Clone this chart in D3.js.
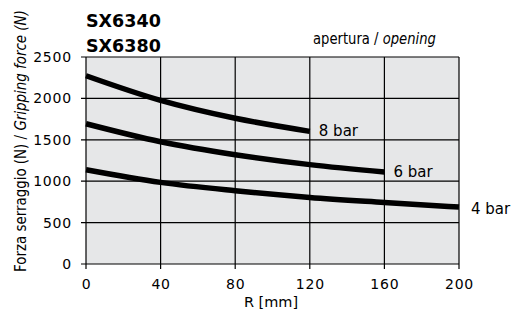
<!DOCTYPE html>
<html>
<head>
<script src="https://d3js.org/d3.v7.min.js"></script>
<style>
  body { margin: 0; background: #fff; }
</style>
</head>
<body>
<svg id="chart" width="513" height="314"></svg>
<script>
// data
const radius = [0, 40, 80, 120, 160, 200];
const bar8 = [2274, 1976, 1760, 1602];
const bar6 = [1694, 1477, 1320, 1200, 1111];
const bar4 = [1139, 986, 885, 804, 744, 688];
const seriesNames = ["8 bar", "6 bar", "4 bar"];
const xTicks = [0, 40, 80, 120, 160, 200];
const yTicks = [0, 500, 1000, 1500, 2000, 2500];

const svg = d3.select("#chart").style("font-family", "'DejaVu Sans', sans-serif");
const margin = {top: 57, left: 86};
const g = svg.append("g").attr("transform", `translate(${margin.left},${margin.top})`);

const x = d3.scaleLinear().domain([0, 200]).range([0, 373]);
const y = d3.scaleLinear().domain([0, 2500]).range([207, 0]);

g.append("rect")
 .attr("width", x(200)).attr("height", y(0))
 .attr("fill", "#e6e7e8");

// grid
g.selectAll(".vgrid").data(xTicks).join("line")
 .attr("x1", d => x(d)).attr("x2", d => x(d))
 .attr("y1", 0).attr("y2", y(0) + 5)
 .attr("stroke", "#000").attr("stroke-width", 1.2);
g.selectAll(".hgrid").data(yTicks).join("line")
 .attr("x1", -5).attr("x2", x(200))
 .attr("y1", d => y(d)).attr("y2", d => y(d))
 .attr("stroke", "#000").attr("stroke-width", 1.2);

// tick labels
g.selectAll(".xl").data(xTicks).join("text")
 .attr("x", d => x(d) + 0.5).attr("y", y(0) + 25)
 .attr("text-anchor", "middle").attr("font-size", 14)
 .attr("letter-spacing", 0.8)
 .text(d => d);
g.selectAll(".yl").data(yTicks).join("text")
 .attr("x", -14).attr("y", d => y(d) + 5)
 .attr("text-anchor", "end").attr("font-size", 14)
 .attr("letter-spacing", 0.8)
 .text(d => d);

// curves
const series = [bar8, bar6, bar4];
const line = d3.line()
  .x((d, i) => x(radius[i]))
  .y(d => y(d))
  .curve(d3.curveMonotoneX);
g.selectAll(".curve").data(series).join("path")
 .attr("d", line)
 .attr("fill", "none").attr("stroke", "#000")
 .attr("stroke-width", 5.5);

g.selectAll(".slab").data(series).join("text")
 .attr("x", (d, i) => x(radius[d.length - 1]) + (i === 2 ? 12 : 9))
 .attr("y", (d, i) => y(d[d.length - 1]) + (i === 2 ? 7 : 5))
 .attr("font-size", 15)
 .text((d, i) => seriesNames[i]);

// titles
svg.append("text").attr("x", 86).attr("y", 27)
 .attr("font-weight", "bold").attr("font-size", 17.5)
 .text("SX6340");
svg.append("text").attr("x", 86).attr("y", 52)
 .attr("font-weight", "bold").attr("font-size", 17.5)
 .text("SX6380");

const cond = "'DejaVu Sans Condensed', 'Liberation Sans Narrow', sans-serif";

// squeeze a condensed label horizontally to the width seen in the picture
function fitted(sel, target) {
  const w = sel.node().getComputedTextLength();
  return target / w;
}

const ap = svg.append("text")
 .attr("font-size", 16.5)
 .style("font-family", cond);
ap.append("tspan").text("apertura / ");
ap.append("tspan").attr("font-style", "italic").text("opening");
ap.attr("transform", `translate(313,44) scale(${fitted(ap, 123)},1)`);

svg.append("text").attr("x", 271).attr("y", 307)
 .attr("text-anchor", "middle").attr("font-size", 14.5)
 .text("R [mm]");

const yl = svg.append("text")
 .attr("font-size", 16.5)
 .style("font-family", cond);
yl.append("tspan").text("Forza serraggio (N) / ");
yl.append("tspan").attr("font-style", "italic").text("Gripping force (N)");
yl.attr("transform", `translate(26,272) rotate(-90) scale(${fitted(yl, 262)},1)`);
</script>
</body>
</html>
